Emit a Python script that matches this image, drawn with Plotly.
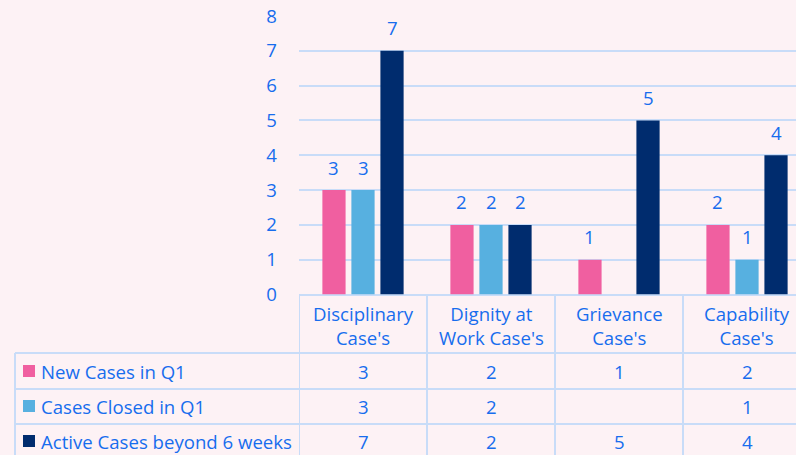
import plotly.graph_objects as go

# ---------------- data ----------------
categories = ["Disciplinary<br>Case's", "Dignity at<br>Work Case's", "Grievance<br>Case's", "Capability<br>Case's"]
series_names = ["New Cases in Q1", "Cases Closed in Q1", "Active Cases beyond 6 weeks"]
new_cases = [3, 2, 1, 2]
closed_cases = [3, 2, None, 1]
active_cases = [7, 2, 5, 4]
y_ticks = [0, 1, 2, 3, 4, 5, 6, 7, 8]

series_values = [new_cases, closed_cases, active_cases]
colors = ["#F05FA0", "#57B0E0", "#002C6E"]

# ---------------- style / layout constants ----------------
W, H = 796, 455
BG = "#FDF2F5"
TXT = "#176DEE"
GRID = "#C8DCF8"
FONT = "Open Sans"
FS = 18.6
BARGAP = 0.32
BARGROUPGAP = 0.2

plot_left = 299      # px
cat_w = 128          # px per category
y0_px, y8_px = 294.5, 16

def px_x(px):
    return px / W

def px_y(py):
    return 1 - py / H

fig = go.Figure()
for name, vals, col in zip(series_names, series_values, colors):
    fig.add_trace(go.Bar(
        x=categories, y=vals, name=name,
        marker=dict(color=col, line=dict(width=0)),
        showlegend=False, hoverinfo="skip",
    ))

annotations = []
shapes = []

# data labels above the bars
slot = (1 - BARGAP) / len(series_names)
for j, vals in enumerate(series_values):
    off = (j - (len(series_names) - 1) / 2) * slot
    for i, v in enumerate(vals):
        if v is None:
            continue
        annotations.append(dict(
            x=i + off, y=v, xref="x", yref="y", text=str(v), showarrow=False,
            yshift=23, font=dict(family=FONT, size=FS, color=TXT),
            xanchor="center", yanchor="middle",
        ))

# category headers in the table
for i, c in enumerate(categories):
    annotations.append(dict(
        x=i, y=px_y(325), xref="x", yref="paper", text=c, showarrow=False,
        font=dict(family=FONT, size=FS, color=TXT), align="center",
        xanchor="center", yanchor="middle",
    ))

# table rows
row_centers = [371, 406, 441]
for r, (name, vals, col) in enumerate(zip(series_names, series_values, colors)):
    yc = row_centers[r]
    shapes.append(dict(type="rect", xref="paper", yref="paper",
                       x0=px_x(23), x1=px_x(35), y0=px_y(yc - 6), y1=px_y(yc + 6),
                       fillcolor=col, line=dict(width=0)))
    annotations.append(dict(
        x=px_x(39), y=px_y(yc), xref="paper", yref="paper", text=name, showarrow=False,
        font=dict(family=FONT, size=FS, color=TXT), xanchor="left", yanchor="middle",
    ))
    for i, v in enumerate(vals):
        annotations.append(dict(
            x=i, y=px_y(yc), xref="x", yref="paper",
            text="" if v is None else str(v), showarrow=False,
            font=dict(family=FONT, size=FS, color=TXT), xanchor="center", yanchor="middle",
        ))

# table grid lines
line = dict(color=GRID, width=2)
for py in [353, 389, 424]:
    shapes.append(dict(type="line", xref="paper", yref="paper",
                       x0=px_x(15), x1=1.0, y0=px_y(py), y1=px_y(py), line=line))
shapes.append(dict(type="line", xref="paper", yref="paper",
                   x0=px_x(15), x1=px_x(15), y0=px_y(353), y1=0, line=line))
for i in range(len(categories) + 1):
    shapes.append(dict(type="line", xref="x", yref="paper",
                       x0=i - 0.5, x1=i - 0.5, y0=px_y(295), y1=0, line=line))

fig.update_layout(
    width=W, height=H,
    margin=dict(l=0, r=0, t=0, b=0, autoexpand=False),
    paper_bgcolor=BG, plot_bgcolor=BG,
    barmode="group", bargap=BARGAP, bargroupgap=BARGROUPGAP,
    font=dict(family=FONT, size=FS, color=TXT),
    xaxis=dict(
        domain=[px_x(plot_left), 1],
        range=[-0.5, -0.5 + (W - plot_left) / cat_w],
        showticklabels=False, showgrid=False, zeroline=False,
        showline=False, ticks="", fixedrange=True, automargin=False,
    ),
    yaxis=dict(
        domain=[px_y(y0_px), px_y(y8_px)],
        range=[0, 8], tickvals=y_ticks, automargin=False,
        showgrid=True, gridcolor=GRID, gridwidth=2,
        zeroline=True, zerolinecolor=GRID, zerolinewidth=2,
        showline=False, ticks="", ticklabelstandoff=21,
        tickfont=dict(family=FONT, size=FS, color=TXT),
    ),
    annotations=annotations, shapes=shapes,
)

fig.write_html("out.html", config={"displayModeBar": False},
               post_script="document.body.style.margin='0';")
